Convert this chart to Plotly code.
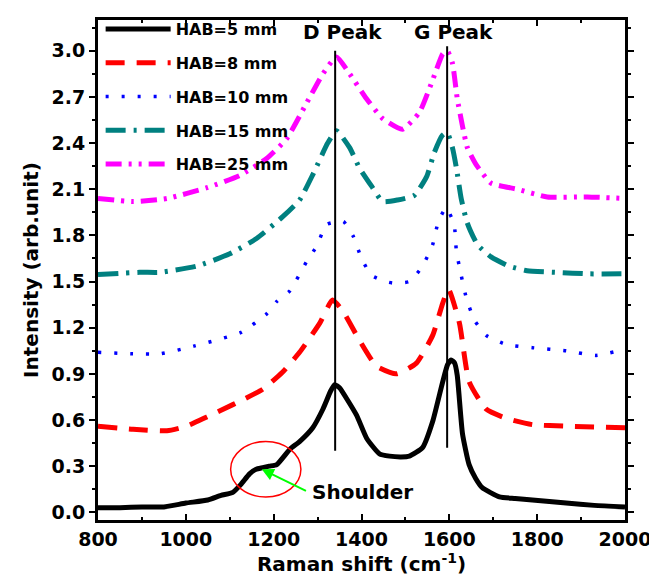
import plotly.graph_objects as go

# ---- data ----
x5 = [800, 850, 900, 950, 1000, 1050, 1080, 1107, 1125, 1145, 1160, 1175, 1190, 1207, 1237, 1259, 1289, 1312,
      1330, 1339, 1350, 1366, 1389, 1412, 1441, 1464, 1490, 1509, 1539, 1562, 1585, 1596, 1604, 1612, 1618,
      1630, 1645, 1660, 1675, 1714, 1750, 1789, 1866, 1930, 2000]
y5 = [0.03, 0.03, 0.035, 0.035, 0.06, 0.08, 0.11, 0.13, 0.18, 0.25, 0.28, 0.29, 0.30, 0.31, 0.41, 0.46, 0.55, 0.67,
      0.79, 0.83, 0.81, 0.74, 0.63, 0.48, 0.38, 0.365, 0.36, 0.365, 0.42, 0.59, 0.85, 0.96, 0.99, 0.97, 0.89,
      0.51, 0.31, 0.22, 0.16, 0.10, 0.09, 0.08, 0.06, 0.045, 0.035]

x8 = [800, 880, 957, 1002, 1048, 1107, 1175, 1220, 1259, 1305, 1334, 1357, 1395, 1434, 1480, 1525, 1562, 1585,
      1598, 1623, 1645, 1684, 1730, 1789, 1866, 2000]
y8 = [0.56, 0.54, 0.53, 0.56, 0.62, 0.70, 0.80, 0.91, 1.04, 1.23, 1.38, 1.31, 1.12, 0.95, 0.90, 0.97, 1.15, 1.36,
      1.45, 1.23, 0.85, 0.67, 0.61, 0.57, 0.56, 0.55]

x10 = [800, 880, 941, 1018, 1126, 1184, 1207, 1237, 1275, 1298, 1320, 1345, 1359, 1382, 1400, 1423, 1455, 1473,
       1509, 1539, 1562, 1575, 1593, 1611, 1616, 1627, 1639, 1657, 1684, 1730, 1789, 1866, 1934, 2000]
y10 = [1.04, 1.03, 1.03, 1.08, 1.17, 1.29, 1.37, 1.44, 1.63, 1.73, 1.87, 1.89, 1.89, 1.79, 1.65, 1.54, 1.50, 1.49,
       1.50, 1.60, 1.74, 1.89, 1.98, 1.87, 1.70, 1.54, 1.39, 1.25, 1.15, 1.09, 1.07, 1.05, 1.02, 1.06]

x15 = [800, 895, 941, 1025, 1100, 1161, 1220, 1259, 1290, 1323, 1343, 1373, 1395, 1423, 1448, 1482, 1520, 1548,
       1566, 1584, 1595, 1607, 1616, 1627, 1641, 1664, 1695, 1736, 1777, 1843, 1918, 2000]
y15 = [1.545, 1.56, 1.56, 1.60, 1.68, 1.78, 1.92, 2.03, 2.20, 2.40, 2.48, 2.37, 2.24, 2.12, 2.02, 2.03, 2.06, 2.18,
       2.34, 2.45, 2.47, 2.37, 2.24, 2.04, 1.88, 1.74, 1.66, 1.60, 1.57, 1.56, 1.55, 1.55]

x25 = [800, 880, 957, 1048, 1123, 1184, 1230, 1275, 1312, 1343, 1373, 1411, 1448, 1493, 1532, 1562, 1585, 1595,
       1607, 1618, 1630, 1641, 1661, 1695, 1755, 1823, 1914, 2000]
y25 = [2.04, 2.02, 2.04, 2.11, 2.19, 2.30, 2.43, 2.66, 2.85, 2.96, 2.85, 2.69, 2.56, 2.49, 2.60, 2.81, 2.98, 3.0,
       2.92, 2.69, 2.51, 2.37, 2.26, 2.14, 2.10, 2.05, 2.05, 2.04]

series_names = ["HAB=5 mm", "HAB=8 mm", "HAB=10 mm", "HAB=15 mm", "HAB=25 mm"]
peak_labels = ["D Peak", "G Peak"]
peak_positions = [1340, 1595]
peak_label_x = [1356, 1609]
peak_line_top = [3.0, 3.03]
peak_line_bottom = [0.40, 0.42]
x_tick_vals = [800, 1000, 1200, 1400, 1600, 1800, 2000]
y_tick_vals = [0.0, 0.3, 0.6, 0.9, 1.2, 1.5, 1.8, 2.1, 2.4, 2.7, 3.0]
shoulder_point = (1173, 0.28)
shoulder_label_pos = (1283, 0.13)

FONT = "DejaVu Sans, Arial, sans-serif"

styles = [
    dict(color="black", width=5, dash="solid"),
    dict(color="#ff0000", width=5, dash="19px,12px"),
    dict(color="#0000ff", width=3.5, dash="3px,13px"),
    dict(color="#008080", width=5, dash="20px,8px,3px,8px"),
    dict(color="#ff00ff", width=5, dash="16px,7px,3px,7px,3px,7px"),
]

fig = go.Figure()
for i, (xs, ys) in enumerate([(x5, y5), (x8, y8), (x10, y10), (x15, y15), (x25, y25)]):
    fig.add_trace(go.Scatter(
        x=xs, y=ys, mode="lines", name=series_names[i],
        line=dict(shape="spline", smoothing=0.5, **styles[i]),
        legendgroup=f"g{i}",
    ))

# peak marker lines and labels
for lbl, px, lx, top, bot in zip(peak_labels, peak_positions, peak_label_x, peak_line_top, peak_line_bottom):
    fig.add_shape(type="line", x0=px, x1=px, y0=bot, y1=top, xref="x", yref="y",
                  line=dict(color="black", width=2))
    fig.add_annotation(x=lx, y=3.12, xref="x", yref="y", text=lbl, showarrow=False,
                       font=dict(family=FONT, size=20, color="black", weight="bold"))

# shoulder ellipse + arrow
fig.add_shape(type="circle", xref="x", yref="y", x0=1102, x1=1262, y0=0.10, y1=0.46,
              line=dict(color="#ff0000", width=1.5))
fig.add_annotation(x=shoulder_point[0], y=shoulder_point[1], ax=1277, ay=0.135, axref="x", ayref="y",
                   xref="x", yref="y", text="", showarrow=True, arrowhead=2, arrowsize=1.2,
                   arrowwidth=2, arrowcolor="#00ff00")
fig.add_annotation(x=shoulder_label_pos[0], y=shoulder_label_pos[1], xref="x", yref="y", text="Shoulder",
                   showarrow=False, xanchor="left",
                   font=dict(family=FONT, size=20, color="black", weight="bold"))

axis_common = dict(
    showgrid=False, zeroline=False, showline=True, linecolor="black", linewidth=3,
    mirror="allticks", ticklen=6, tickwidth=2, tickcolor="black", automargin=False,
    tickfont=dict(family=FONT, size=19, color="black", weight="bold"),
)

fig.update_xaxes(
    range=[800, 2000], tickvals=x_tick_vals, ticks="inside",
    minor=dict(ticks="inside", ticklen=3, tickwidth=2, tickcolor="black", dtick=100),
    title=dict(text="Raman shift (cm<sup>-1</sup>)", standoff=2,
               font=dict(family=FONT, size=20, color="black", weight="bold")),
    **axis_common,
)
fig.update_yaxes(
    range=[-0.05, 3.2], tickvals=y_tick_vals, tickformat=".1f", ticks="outside",
    minor=dict(ticks="outside", ticklen=3, tickwidth=2, tickcolor="black", dtick=0.15, tick0=0),
    title=dict(text="Intensity (arb.unit)", standoff=8,
               font=dict(family=FONT, size=20, color="black", weight="bold")),
    **axis_common,
)

fig.update_layout(
    width=649, height=570,
    margin=dict(l=90, r=32, t=4, b=58),
    plot_bgcolor="white", paper_bgcolor="white",
    showlegend=True,
    legend=dict(x=0.005, y=1.016, xanchor="left", yanchor="top", bgcolor="rgba(0,0,0,0)",
                itemwidth=65, tracegroupgap=10, traceorder="grouped",
                font=dict(family=FONT, size=16, color="black", weight="bold")),
)

fig.write_html("out.html")
